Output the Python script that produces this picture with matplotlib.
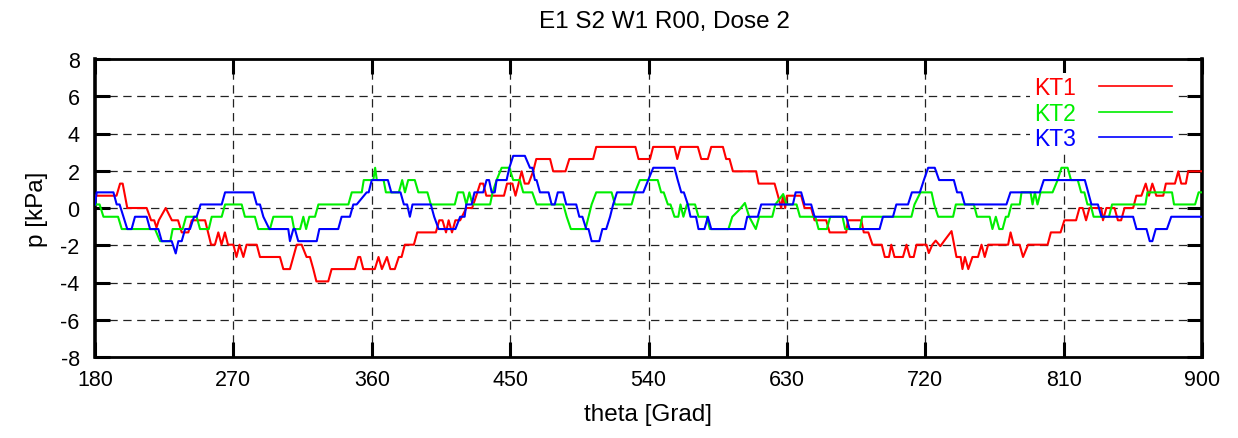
import matplotlib
matplotlib.use("Agg")
import matplotlib.pyplot as plt

plt.rcParams['font.family'] = ['Liberation Sans', 'DejaVu Sans']
plt.rcParams['lines.scale_dashes'] = False

title = "E1 S2 W1 R00, Dose 2"
xlabel = "theta [Grad]"
ylabel = "p [kPa]"
series_names = ["KT1", "KT2", "KT3"]
xticks = [180, 270, 360, 450, 540, 630, 720, 810, 900]
yticks = [-8, -6, -4, -2, 0, 2, 4, 6, 8]

theta_kt1 = [
    180, 194, 196.3, 198, 199.5, 201, 213.6, 216.5, 218.5, 220,
    221.5, 226, 230, 234, 236.4, 240.7, 242.9, 251.6, 253.5, 255.5,
    258, 260.2, 262.3, 264.5, 266.5, 270, 272, 274, 276.5, 278.6,
    285.2, 287.3, 300.3, 302.5, 306.8, 309, 311.2, 314.4, 317.6, 319.8,
    322, 324, 331.7, 333.9, 349, 351.2, 352.5, 354.5, 362, 364.4,
    366.6, 369.9, 372.1, 375, 377.6, 379.4, 381.5, 387.4, 389.6, 401.7,
    403.9, 406, 408.3, 410, 412.2, 414.4, 417.5, 421.5, 425.3, 428,
    430.5, 432.5, 434.5, 446, 448, 451.5, 453.5, 457.5, 459.5, 462,
    465, 467, 476, 478, 486, 488.5, 504, 506, 531.5, 533.5,
    541, 543, 556.9, 558.7, 560.8, 572.1, 574.3, 578.6, 580.8, 588.4,
    590.5, 592.7, 594.9, 610, 611.6, 622, 624.2, 626.3, 627.4, 628.9,
    630, 639.3, 641.5, 645.8, 648, 655.6, 657.8, 668.6, 669.7, 678.4,
    680, 683, 685.7, 691.7, 693.7, 696.4, 697.9, 700, 705.5, 707.8,
    710, 712.5, 714.3, 720.8, 722.3, 724.6, 726.8, 729.8, 732.9, 737.1,
    740.3, 743, 744.2, 745.8, 748, 750.7, 754.3, 756.6, 758.7, 760.9,
    773.9, 775.5, 777.5, 781.4, 783.6, 786.9, 799.6, 801.7, 808, 810.5,
    818.1, 820.3, 822.4, 824.6, 826.8, 834.5, 835.6, 837.8, 843.1, 845.3,
    847.4, 849.6, 855.2, 857.3, 860.6, 863.4, 865.5, 867.7, 870.3, 874.8,
    876.5, 882.4, 884.6, 886.5, 889.5, 891, 900,
]
p_kt1 = [
    0.66, 0.66, 1.31, 1.31, 0.66, 0, 0, -0.66, -0.66, -1.05,
    -0.66, 0, -0.66, -0.66, -1.31, -1.31, -0.66, -0.66, -1.31, -1.97,
    -1.97, -1.31, -1.97, -1.31, -1.97, -1.97, -2.63, -1.97, -2.63, -1.97,
    -1.97, -2.63, -2.63, -3.28, -3.28, -2.63, -1.97, -1.97, -2.63, -2.63,
    -3.28, -3.94, -3.94, -3.28, -3.28, -2.63, -2.63, -3.28, -3.28, -2.63,
    -3.28, -2.63, -3.28, -3.28, -2.63, -2.63, -1.97, -1.97, -1.31, -1.31,
    -0.66, -0.66, -1.31, -0.66, -1.31, -0.66, -0.66, 0, 0, 0.66,
    1.31, 1.31, 0.66, 0.66, 1.31, 1.31, 0.66, 1.97, 1.31, 1.31,
    1.97, 2.63, 2.63, 1.97, 1.97, 2.63, 2.63, 3.28, 3.28, 2.63,
    2.63, 3.28, 3.28, 2.63, 3.28, 3.28, 2.63, 2.63, 3.28, 3.28,
    2.63, 2.63, 1.97, 1.97, 1.31, 1.31, 0.66, 0, 0.66, 0,
    0.66, 0.66, 0, 0, -0.66, -0.66, -1.31, -1.31, -0.66, -0.66,
    -1.31, -1.31, -1.97, -1.97, -2.63, -2.63, -1.97, -2.63, -2.63, -1.97,
    -2.63, -2.63, -1.97, -1.97, -2.42, -1.97, -1.75, -2.05, -1.7, -1.24,
    -2.63, -2.63, -3.28, -2.63, -3.28, -2.63, -2.63, -1.97, -2.63, -1.97,
    -1.97, -1.31, -1.97, -1.97, -2.63, -1.97, -1.97, -1.31, -1.31, -0.66,
    -0.66, 0, 0, -0.66, 0, 0, -0.66, 0, 0, -0.66,
    -0.66, 0, 0, 0.66, 0.66, 1.31, 0.66, 1.31, 0.66, 0.66,
    1.31, 1.31, 1.97, 1.31, 1.31, 1.97, 1.97,
]

theta_kt2 = [
    180, 183, 185.5, 195, 197.4, 219, 222.3, 229, 230.5, 237,
    239.2, 246.1, 248.3, 254, 255.9, 262.4, 264.6, 275.4, 277.5, 284,
    286.2, 293.8, 296, 308, 309.5, 313.4, 315.5, 317.3, 319.4, 323.1,
    325.3, 344.8, 347, 353.5, 354.8, 361, 362.2, 363.3, 367.7, 369.2,
    377.6, 379.8, 381.6, 383.7, 388, 390.3, 396.2, 398.4, 414, 416,
    419.5, 421.5, 423.5, 425.5, 437, 438.6, 441.2, 444.5, 449.5, 452,
    456.3, 458.5, 464.4, 467.2, 484.6, 486.8, 489.5, 499, 501, 503,
    506, 516, 518.2, 529, 531.2, 534.4, 546, 548.2, 549.9, 552.6,
    554.3, 556.9, 559.4, 560.8, 562.7, 565, 570.3, 572.5, 577.8, 579.9,
    592, 594.5, 599, 602.7, 605.5, 609.8, 612, 620.5, 622.5, 627.6,
    629.8, 636.3, 638.5, 648.5, 650.6, 656, 658.2, 666.2, 667.9, 677.5,
    679, 711, 713, 716.9, 724.1, 725.8, 728.4, 738.1, 739.9, 751.6,
    753.7, 761.9, 763.7, 765.9, 768.1, 770.3, 772.4, 774, 776.1, 781.5,
    782.6, 788.5, 789.8, 791.3, 793, 795, 802.8, 806.1, 808.6, 812.6,
    814.8, 819.2, 821.4, 823.5, 825.5, 827.5, 829.5, 839.5, 841.5, 863.2,
    864.5, 880.5, 881.8, 895.5, 897.8, 900,
]
p_kt2 = [
    0.19, 0.19, -0.47, -0.47, -1.13, -1.13, -1.78, -1.78, -1.13, -1.13,
    -0.47, -0.47, -1.13, -1.13, -0.47, -0.47, 0.19, 0.19, -0.47, -0.47,
    -1.13, -1.13, -0.47, -0.47, -1.13, -1.13, -0.47, -1.13, -0.47, -0.47,
    0.19, 0.19, 0.84, 0.84, 1.5, 1.5, 2.16, 1.5, 1.5, 0.84,
    0.84, 1.5, 0.84, 1.5, 1.5, 0.84, 0.84, 0.19, 0.19, 0.84,
    0.84, 0.19, 0.84, 0.19, 0.19, 0.84, 1.5, 2.16, 2.16, 1.5,
    1.5, 0.84, 0.84, 0.19, 0.19, -0.47, -1.13, -1.13, -0.47, 0.19,
    0.84, 0.84, 0.19, 0.19, 0.84, 1.5, 1.5, 0.84, 0.84, 0.19,
    0.19, -0.47, -0.47, 0.19, -0.47, 0.19, 0.19, -0.47, -0.47, -1.13,
    -1.13, -0.47, -0.1, 0.27, -0.47, -1.13, -0.47, -0.47, 0.19, 0.75,
    0.19, 0.19, -0.47, -0.47, -1.13, -1.13, -0.47, -0.47, -1.13, -1.13,
    -0.47, -0.47, 0.19, 0.84, 0.84, 0.19, -0.47, -0.47, 0.19, 0.19,
    -0.47, -0.47, -1.13, -0.47, -1.13, -1.13, -0.47, -0.47, 0.19, 0.19,
    0.84, 0.84, 0.19, 0.84, 0.19, 0.84, 0.84, 1.5, 2.16, 2.16,
    1.5, 1.5, 0.84, 0.84, 0.19, 0.19, -0.47, -0.47, 0.19, 0.19,
    0.84, 0.84, 0.19, 0.19, 0.84, 0.84,
]

theta_kt3 = [
    180, 181.1, 192, 194.1, 196, 198.5, 201, 203.8, 206, 213.6,
    215.8, 221.2, 223.4, 229.9, 232.5, 234.2, 236.4, 238.6, 241.8, 244.4,
    246.1, 248.7, 262.4, 264.6, 283, 285.2, 287.3, 289.5, 293.4, 305.7,
    306.8, 309, 310, 312.2, 324.2, 325.9, 338.2, 340.4, 345.8, 348,
    350.2, 356.7, 358, 360, 370.5, 372.7, 378.7, 380.9, 383, 384.8,
    386.5, 398.4, 400.6, 403.5, 414.4, 417.5, 420.4, 421.5, 425, 426.8,
    432.5, 434.7, 436.3, 438, 440, 441.2, 447.7, 449.5, 452, 459.6,
    462.9, 464.5, 466.1, 467.2, 469.4, 475, 477, 479, 481, 484.5,
    486.5, 493, 495, 497, 499.5, 501, 503, 508, 510, 512.5,
    515, 517, 519.5, 536.6, 539.8, 543.1, 556.9, 559, 561.3, 563,
    565.6, 567.3, 570.9, 572.5, 576.4, 578.6, 580.8, 602.5, 604.2, 611.1,
    613.3, 633.9, 635.7, 639.3, 641.5, 645.8, 648, 668.6, 670.8, 690.3,
    692.5, 699, 701.2, 708.8, 711.3, 716.5, 719.1, 721.9, 726.2, 729,
    738.6, 740.7, 743.5, 745.7, 772.8, 775.4, 794.5, 797.1, 823.8, 826,
    828.1, 832.3, 834.6, 855.2, 857.4, 863.9, 866, 867.7, 869.9, 877.2,
    880, 900,
]
p_kt3 = [
    0.19, 0.84, 0.84, 0.19, 0.19, -0.47, -1.13, -1.13, -0.47, -0.47,
    -1.13, -1.13, -1.78, -1.78, -2.44, -1.78, -1.78, -1.13, -1.13, -0.47,
    -0.47, 0.19, 0.19, 0.84, 0.84, 0.19, 0.19, -0.47, -1.13, -1.13,
    -1.78, -1.13, -1.13, -1.78, -1.78, -1.13, -1.13, -0.47, -0.47, 0.19,
    0.19, 0.84, 0.84, 1.5, 1.5, 0.84, 0.84, 0.19, 0.19, -0.47,
    0.19, 0.19, -0.47, -1.13, -1.13, -0.47, -0.47, 0.19, 0.19, 0.84,
    0.84, 1.5, 1.5, 0.84, 0.84, 1.5, 1.5, 2.16, 2.8, 2.8,
    2.16, 2.16, 1.5, 1.5, 0.84, 0.84, 0.19, 0.19, 0.84, 0.84,
    0.19, 0.19, -0.47, -0.47, -1.13, -1.13, -1.78, -1.78, -1.13, -1.13,
    -0.47, 0.19, 0.84, 0.84, 1.5, 2.16, 2.16, 1.5, 0.84, 0.84,
    0.19, -0.47, -0.47, -1.13, -1.13, -0.47, -1.13, -1.13, -0.47, -0.47,
    0.19, 0.19, 0.84, 0.84, 0.19, 0.19, -0.47, -0.47, -1.13, -1.13,
    -0.47, -0.47, 0.19, 0.19, 0.84, 0.84, 1.5, 2.16, 2.16, 1.5,
    1.5, 0.84, 0.84, 0.19, 0.19, 0.84, 0.84, 1.5, 1.5, 0.84,
    0.19, 0.19, -0.47, -0.47, -1.13, -1.13, -1.78, -1.78, -1.13, -1.13,
    -0.47, -0.47,
]

colors = ["#ff0000", "#00ee00", "#0000ff"]

W, H = 1238, 439
fig = plt.figure(figsize=(W / 100, H / 100), dpi=100)
x0, x1, y0, y1 = 95, 1202, 60, 358
ax = fig.add_axes([x0 / W, 1 - y1 / H, (x1 - x0) / W, (y1 - y0) / H])

ax.set_xlim(180, 900)
ax.set_ylim(-8, 8)
ax.set_xticks(xticks)
ax.set_yticks(yticks)
ax.set_xticklabels([str(v) for v in xticks])
ax.set_yticklabels([str(v) for v in yticks])

for t in xticks[1:-1]:
    ax.axvline(t, color="#222222", lw=0.9, dashes=(6, 4), zorder=1)
for v in yticks[1:-1]:
    ax.axhline(v, color="#222222", lw=0.9, dashes=(6, 4), zorder=1)

for th, pv, c, name in zip([theta_kt1, theta_kt2, theta_kt3],
                           [p_kt1, p_kt2, p_kt3], colors, series_names):
    ax.plot(th, pv, color=c, lw=1.5, label=name, zorder=3)

for side in ["left", "right"]:
    ax.spines[side].set_linewidth(2.6)
for side in ["top", "bottom"]:
    ax.spines[side].set_linewidth(2.0)

ax.tick_params(axis="both", which="major", direction="in", length=11, width=2.2,
               top=True, right=True, labelsize=15.5, colors="black")
ax.tick_params(axis="x", pad=9)
ax.tick_params(axis="y", pad=11)

fig.text(664 / W, 1 - 22 / H, title, fontsize=17.5, ha="center", va="center")
ax.set_xlabel(xlabel, fontsize=17.5)
ax.xaxis.label.set_va("center")
ax.xaxis.set_label_coords(0.5, (358 - 415) / 298)
ax.set_ylabel(ylabel, fontsize=17.5)
ax.yaxis.label.set_va("center")
ax.yaxis.set_label_coords((37 - 95) / 1107, 0.5)

leg = ax.legend(loc="upper right", bbox_to_anchor=(0.98, 0.97), frameon=True,
                markerfirst=False, handlelength=3.2, labelspacing=0.12,
                handletextpad=1.0, fontsize=16.5, labelcolor="linecolor",
                borderaxespad=0.2, borderpad=0.15, fancybox=False)
leg.get_frame().set_facecolor("white")
leg.get_frame().set_edgecolor("none")
leg.get_frame().set_alpha(1.0)
for line in leg.get_lines():
    line.set_linewidth(1.2)

fig.savefig("out.png", dpi=100)
